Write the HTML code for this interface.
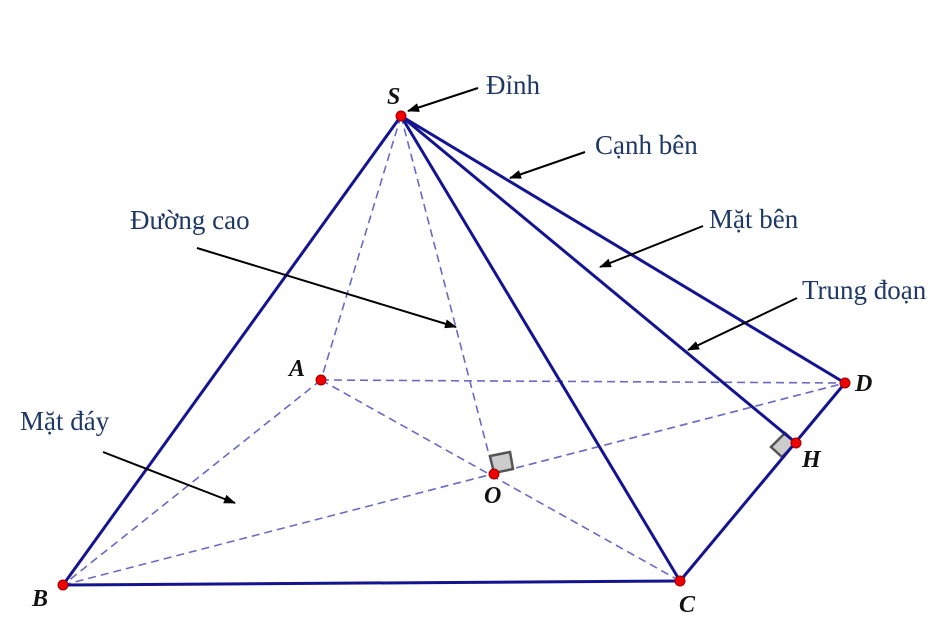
<!DOCTYPE html>
<html><head><meta charset="utf-8"><style>
html,body{margin:0;padding:0;background:#fff}
svg{display:block}
.lab{font-family:"Liberation Serif",serif;font-size:27px;fill:#1f3864}
.pt{font-family:"Liberation Serif",serif;font-size:24px;font-style:italic;font-weight:bold;fill:#111}
</style></head><body>
<svg width="952" height="621" viewBox="0 0 952 621" xmlns="http://www.w3.org/2000/svg">
<defs><marker id="ar" markerWidth="12" markerHeight="9" refX="11" refY="4.5" orient="auto" markerUnits="userSpaceOnUse">
<path d="M0,0 L12,4.5 L0,9 z" fill="#000"/></marker></defs>
<g stroke="#6a6ac4" stroke-width="1.6" stroke-dasharray="8,5" fill="none">
<line x1="401" y1="116" x2="321" y2="380"/>
<line x1="401" y1="116" x2="494" y2="474"/>
<line x1="321" y1="380" x2="845" y2="383"/>
<line x1="321" y1="380" x2="63" y2="585"/>
<line x1="321" y1="380" x2="680" y2="581"/>
<line x1="63" y1="585" x2="845" y2="383"/>
</g>
<polygon points="490,456 510,452 513,469 494,473" fill="#ccc" stroke="#555" stroke-width="2.5"/>
<polygon points="796,443 785,433 771,447 782,457" fill="#ccc" stroke="#555" stroke-width="2.5"/>
<g stroke="#141490" stroke-width="3" fill="none" stroke-linejoin="round">
<line x1="401" y1="116" x2="63" y2="585"/>
<line x1="401" y1="116" x2="680" y2="581"/>
<line x1="401" y1="116" x2="845" y2="383"/>
<line x1="401" y1="116" x2="796" y2="443"/>
<line x1="63" y1="585" x2="680" y2="581"/>
<line x1="680" y1="581" x2="845" y2="383"/>
</g>
<g fill="#e00" stroke="#900" stroke-width="1">
<circle cx="401" cy="116" r="5"/><circle cx="321" cy="380" r="5"/>
<circle cx="845" cy="383" r="5"/><circle cx="63" cy="585" r="5"/>
<circle cx="680" cy="581" r="5"/><circle cx="494" cy="474" r="5"/>
<circle cx="796" cy="443" r="5"/>
</g>
<g stroke="#000" stroke-width="2" marker-end="url(#ar)">
<line x1="478" y1="88" x2="408" y2="111"/>
<line x1="585" y1="152" x2="510" y2="178"/>
<line x1="197" y1="248" x2="456" y2="327"/>
<line x1="703" y1="226" x2="600" y2="267"/>
<line x1="797" y1="298" x2="688" y2="350"/>
<line x1="103" y1="452" x2="235" y2="503"/>
</g>
<text class="pt" x="387" y="104">S</text>
<text class="pt" x="289" y="376">A</text>
<text class="pt" x="855" y="391">D</text>
<text class="pt" x="32" y="606">B</text>
<text class="pt" x="679" y="612">C</text>
<text class="pt" x="484" y="503">O</text>
<text class="pt" x="802" y="467">H</text>
<text class="lab" x="486" y="94">Đỉnh</text>
<text class="lab" x="595" y="154">Cạnh bên</text>
<text class="lab" x="130" y="229">Đường cao</text>
<text class="lab" x="709" y="228">Mặt bên</text>
<text class="lab" x="802" y="299">Trung đoạn</text>
<text class="lab" x="20" y="430">Mặt đáy</text>
</svg>
</body></html>
